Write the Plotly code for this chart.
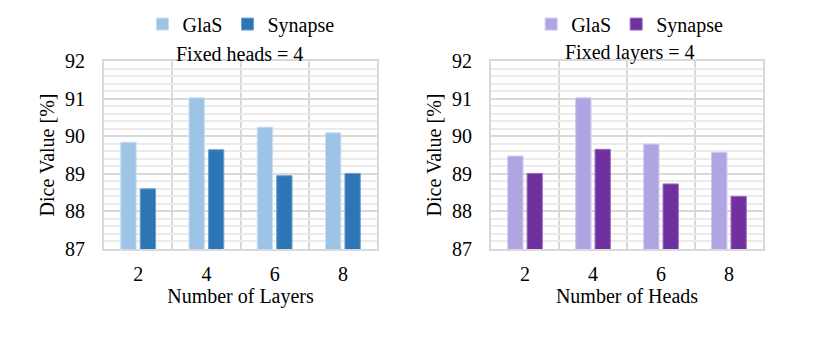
import plotly.graph_objects as go

# values (Dice value, %)
layers = [2, 4, 6, 8]
glas_layers = [89.84, 91.02, 90.24, 90.09]
synapse_layers = [88.60, 89.64, 88.95, 89.01]

heads = [2, 4, 6, 8]
glas_heads = [89.47, 91.02, 89.79, 89.57]
synapse_heads = [89.01, 89.65, 88.73, 88.40]

blue_light = '#9DC3E6'
blue_dark = '#2E75B6'
purple_light = '#B0A5E2'
purple_dark = '#7030A0'

FONT = 'Times New Roman, Liberation Serif, serif'
GRID = '#D9D9D9'
MINOR = '#EBEBEB'

fig = go.Figure()

fig.add_trace(go.Bar(x=layers, y=glas_layers, name='GlaS', marker=dict(color=blue_light, line=dict(color='#C9DDF0', width=1)),
                     xaxis='x', yaxis='y', legend='legend', width=0.45, offset=-0.51))
fig.add_trace(go.Bar(x=layers, y=synapse_layers, name='Synapse', marker=dict(color=blue_dark, line=dict(color='#6FA0CF', width=1)),
                     xaxis='x', yaxis='y', legend='legend', width=0.45, offset=0.06))
fig.add_trace(go.Bar(x=heads, y=glas_heads, name='GlaS', marker=dict(color=purple_light, line=dict(color='#CFC8EE', width=1)),
                     xaxis='x2', yaxis='y2', legend='legend2', width=0.45, offset=-0.51))
fig.add_trace(go.Bar(x=heads, y=synapse_heads, name='Synapse', marker=dict(color=purple_dark, line=dict(color='#9A6CC0', width=1)),
                     xaxis='x2', yaxis='y2', legend='legend2', width=0.45, offset=0.06))


def xax(domain, title, anchor):
    return dict(domain=domain, anchor=anchor, range=[1, 9], tickvals=[2, 4, 6, 8], ticktext=['2', '4', '6', '8'],
                showgrid=False, ticks='outside', ticklen=6, tickcolor='rgba(0,0,0,0)',
                minor=dict(tick0=1, dtick=2, showgrid=True, gridcolor=GRID, gridwidth=2),
                showline=True, linecolor=GRID, linewidth=2, mirror=True, zeroline=False,
                tickfont=dict(family=FONT, size=20, color='black'),
                title=dict(text=title, font=dict(family=FONT, size=20, color='black'), standoff=0))


def yax(anchor):
    return dict(domain=[0.325, 0.8515], anchor=anchor, range=[87, 92], dtick=1, tick0=87,
                showgrid=True, gridcolor=GRID, gridwidth=2,
                minor=dict(dtick=0.2, showgrid=True, gridcolor=MINOR, gridwidth=2),
                ticks='outside', ticklen=13, tickcolor='rgba(0,0,0,0)',
                showline=True, linecolor=GRID, linewidth=2, mirror=True, zeroline=False,
                tickfont=dict(family=FONT, size=20, color='black'),
                title=dict(text='Dice Value [%]', font=dict(family=FONT, size=20, color='black'), standoff=5))


fig.update_layout(
    width=830, height=357,
    margin=dict(l=0, r=0, t=0, b=0, autoexpand=False),
    paper_bgcolor='white', plot_bgcolor='white',
    barmode='overlay',
    xaxis=xax([0.1157, 0.4446], 'Number of Layers', 'y'),
    yaxis=yax('x'),
    xaxis2=xax([0.582, 0.9096], 'Number of Heads', 'y2'),
    yaxis2=yax('x2'),
    legend=dict(orientation='h', x=0.2807, xanchor='center', y=0.955, yanchor='middle',
                font=dict(family=FONT, size=20, color='black'), itemwidth=30, traceorder='normal'),
    legend2=dict(orientation='h', x=0.749, xanchor='center', y=0.955, yanchor='middle',
                 font=dict(family=FONT, size=20, color='black'), itemwidth=30, traceorder='normal'),
    annotations=[
        dict(text='Fixed heads = 4', x=0.2795, y=0.871, xref='paper', yref='paper', showarrow=False,
             xanchor='center', yanchor='middle', font=dict(family=FONT, size=20, color='black')),
        dict(text='Fixed layers = 4', x=0.749, y=0.874, xref='paper', yref='paper', showarrow=False,
             xanchor='center', yanchor='middle', font=dict(family=FONT, size=20, color='black')),
    ],
)

fig.write_html("out.html")
